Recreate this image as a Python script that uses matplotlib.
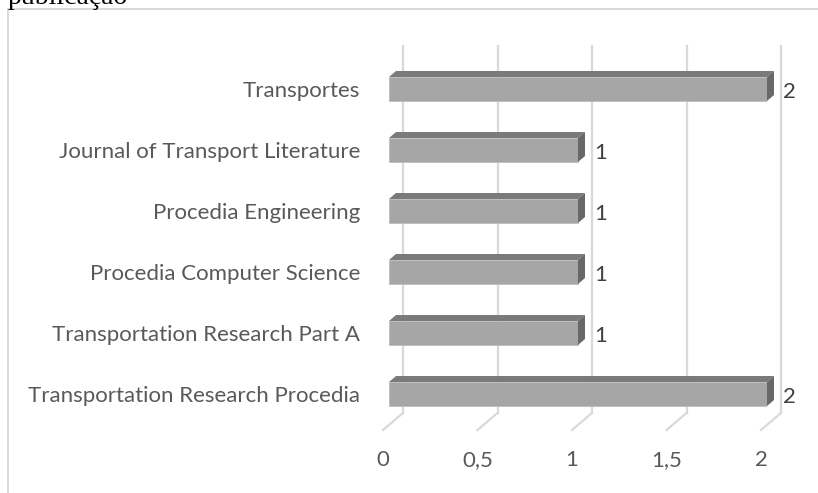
import numpy as np
import matplotlib
matplotlib.use('Agg')
import matplotlib.pyplot as plt
from matplotlib.patches import Polygon
from matplotlib.lines import Line2D
from matplotlib.transforms import blended_transform_factory

# ---------------------------------------------------------------
# Data (bottom -> top, as drawn)
# ---------------------------------------------------------------
journals = ['Transportation Research Procedia', 'Transportation Research Part A',
            'Procedia Computer Science', 'Procedia Engineering',
            'Journal of Transport Literature', 'Transportes']
counts = [2, 1, 1, 1, 1, 2]
ticks = [0, 0.5, 1, 1.5, 2]
tick_labels = ['0', '0,5', '1', '1,5', '2']

plt.rcParams['font.family'] = ['Lato', 'DejaVu Sans']
TXT = '#595959'
GRID = '#D9D9D9'
FS = 16

W, H = 818, 493
fig = plt.figure(figsize=(W / 100, H / 100), dpi=100)

# plot area in pixels: x 389..767 (value 0..2), y 46..430
ax = fig.add_axes([389 / W, 1 - 430 / H, 378 / W, 384 / H])
ax.set_xlim(0, 2)
ax.set_ylim(-0.59, 5.705)
for s in ax.spines.values():
    s.set_visible(False)

px_x = 2 / 378.0          # value units per pixel
px_y = 6.295 / 384.0      # category units per pixel

# 3D depth offsets
dx, dy = 7 * px_x, 6 * px_y
back_dx = 14 * px_x
floor_top = -0.311
floor_dx = -6 * px_x

# gridlines on back wall + slanted floor lines
for t in ticks:
    ax.plot([t + back_dx, t + back_dx], [5.705, floor_top], color=GRID, lw=1.6, zorder=1,
            clip_on=False)
    ax.plot([t + back_dx, t + floor_dx], [floor_top, -0.59], color=GRID, lw=1.6, zorder=1,
            clip_on=False)

# bars
y = np.arange(len(journals))
h = 24 * px_y
ax.barh(y, counts, height=h, color='#A6A6A6', edgecolor='#BDBDBD', linewidth=0.6, zorder=3)
for yi, v in zip(y, counts):
    top = yi + h / 2
    bot = yi - h / 2
    ax.add_patch(Polygon([(0, top), (v, top), (v + dx, top + dy), (dx, top + dy)],
                         closed=True, facecolor='#7A7A7A', edgecolor='none', zorder=3,
                         clip_on=False))
    ax.add_patch(Polygon([(v, bot), (v, top), (v + dx, top + dy), (v + dx, bot + dy)],
                         closed=True, facecolor='#686868', edgecolor='none', zorder=3,
                         clip_on=False))
    ax.annotate(str(v), (v, yi), xytext=(16 * 0.72, -2), textcoords='offset points',
                ha='left', va='center', fontsize=FS, color='#404040', zorder=4)

# category labels
ax.set_yticks(y)
ax.set_yticklabels(journals, fontsize=FS, color=TXT)
ax.tick_params(axis='y', length=0, pad=29 * 0.72)

# value axis labels (sit at the front edge of the floor)
ax.set_xticks([])
trans = blended_transform_factory(ax.transData, ax.transAxes)
for t, lab in zip(ticks, tick_labels):
    ax.text(t + floor_dx, -30 / 384.0, lab, transform=trans, ha='center', va='center',
            fontsize=FS, color=TXT)

# chart border (cropped) and cut-off caption above
fig.add_artist(Line2D([8 / W, 8 / W], [0, 1 - 9 / H], color=GRID, lw=1.4))
fig.add_artist(Line2D([8 / W, 1], [1 - 9 / H, 1 - 9 / H], color=GRID, lw=1.4))
fig.text(8 / W, 1 - 4 / H, 'publicação', fontsize=20, family='Liberation Serif',
         color='black', ha='left', va='baseline')

fig.savefig('out.png', dpi=100)
